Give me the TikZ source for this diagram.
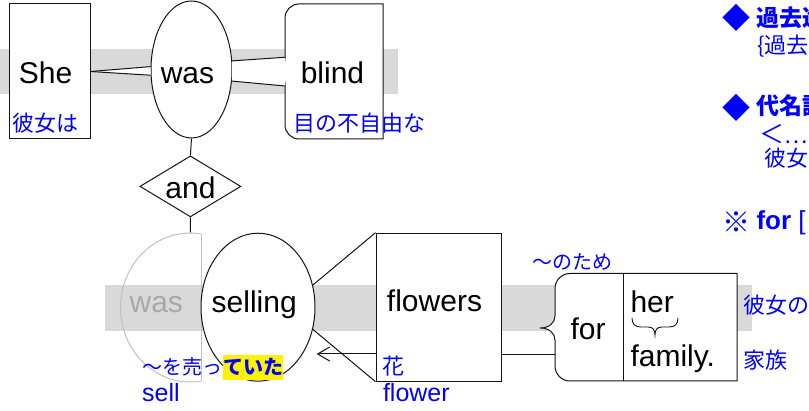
\documentclass[tikz,border=0pt]{standalone}
\usepackage{fontspec}
\setmainfont{Liberation Sans}
\newfontfamily\jp{Noto Sans CJK JP}
\usetikzlibrary{arrows.meta,shapes.geometric}
\definecolor{jblue}{RGB}{0,0,255}
\definecolor{band}{RGB}{217,217,217}
\definecolor{ghost}{RGB}{192,192,192}
\definecolor{ghosttext}{RGB}{168,168,168}
\definecolor{ink}{RGB}{20,20,20}
\begin{document}
\begin{tikzpicture}[x=1pt,y=-1pt,line width=1pt,draw=ink,
  word/.style={font=\fontsize{30}{34}\selectfont,inner sep=0pt,anchor=base,text=black},
  jlab/.style={font=\jp\fontsize{22}{26}\selectfont,text=jblue,inner sep=0pt,anchor=base west},
  jsmall/.style={font=\jp\fontsize{20}{24}\selectfont,text=jblue,inner sep=0pt,anchor=base west},
  elab/.style={font=\fontsize{25}{28}\selectfont,text=jblue,inner sep=0pt,anchor=base west},
  rbold/.style={font=\jp\bfseries\fontsize{23}{26}\selectfont,text=jblue,inner sep=0pt,anchor=base west},
  rreg/.style={font=\jp\fontsize{22}{26}\selectfont,text=jblue,inner sep=0pt,anchor=base west},
  rmark/.style={font=\jp\fontsize{28}{30}\selectfont,text=jblue,inner sep=0pt},
  wbox/.style={draw,fill=white,rectangle,inner sep=0pt},
  well/.style={draw,fill=white,ellipse,inner sep=0pt},
]
\useasboundingbox (0,0) rectangle (809,411);

% grey bands
\fill[band] (0,49) rectangle (398,94);
\fill[band] (105,285) rectangle (752,331);

% ---- top line ----
\node[wbox,minimum width=81,minimum height=135] (she) at (49.5,71.5) {};
\node[well,minimum width=81,minimum height=137] (was) at (191.5,69.5) {};

% blind box with brace on its left side
\draw[fill=white] (299,4) -- (383,4) -- (383,139) -- (299,139)
  .. controls (291.3,139) and (285,132.7) .. (285,125) -- (285,83)
  .. controls (285,76) and (280,71) .. (273,71)
  .. controls (280,71) and (285,66) .. (285,59) -- (285,18)
  .. controls (285,10.3) and (291.3,4) .. (299,4) -- cycle;
\coordinate (bl1) at (285,57.3);
\coordinate (bl2) at (285,86);

% connectors top
\fill[white] (she.east) -- (was.176) -- (was.188) -- cycle;
\draw (she.east) -- (was.176);
\draw (she.east) -- (was.188);
\fill[white] (was.12) -- (bl1) -- (bl2) -- (was.-16) -- cycle;
\draw (was.12) -- (bl1);
\draw (was.-16) -- (bl2);

\node[word] (sheT) at (45.5,83.3) {She};
\node[word] (wasT) at (187.5,83.3) {was};
\node[word] (blindT) at (332.5,83.3) {blind};
\node[jlab] (kanojowa) at (12,132) {彼女は};
\node[jlab] (menofujiyu) at (293,132) {目の不自由な};

% ---- and ----
\node[draw,fill=white,diamond,inner sep=0pt,minimum width=101,minimum height=61] (and) at (190.4,186.4) {};
\node[word] (andT) at (190.5,198.3) {and};
\draw (was.south) -- (and.north);

% ---- lower line ----
\begin{scope}
  \clip (100,220) rectangle (201,395);
  \node[draw=ghost,ellipse,inner sep=0pt,minimum width=140,minimum height=149] (wasg) at (190.5,307.5) {};
\end{scope}
\draw[ghost] (201,233.8) -- (201,381.2);
\draw (and.south) -- (wasg.north);

\node[well,minimum width=114,minimum height=148] (selling) at (258,307.2) {};
\node[wbox,minimum width=125,minimum height=148] (flowers) at (438.5,307.2) {};
\draw (selling.22) -- (flowers.north west);
\draw (selling.-22) -- (flowers.south west);
\coordinate (arrtip) at (316.7,354);
\draw[-{Straight Barb[length=12pt,width=14pt]}] (arrtip -| flowers.west) -- (arrtip);

% for box with brace
\draw[fill=white] (570,273.5) -- (737,273.5) -- (737,381) -- (570,381)
  .. controls (561.7,381) and (555,374.3) .. (555,366) -- (555,340)
  .. controls (555,333) and (549,328) .. (540,328)
  .. controls (549,328) and (555,323) .. (555,316) -- (555,288.5)
  .. controls (555,280.2) and (561.7,273.5) .. (570,273.5) -- cycle;
\coordinate (forL) at (555,354.3);
\coordinate (forM) at (623,273.5);
\draw (forM) -- (623,381);
\draw (forL -| flowers.east) -- (forL);

% brace under "her"
\draw[line width=0.9pt] (632,318) .. controls (632,324) and (635,327) .. (641,327) -- (648,327)
  .. controls (653,327) and (655,330) .. (655,335)
  .. controls (655,330) and (657,327) .. (662,327) -- (669,327)
  .. controls (675,327) and (678,324) .. (678,318);

\node[word,text=ghosttext] (wasgT) at (156.3,312.7) {was};
\node[word] (sellingT) at (254.2,312.7) {selling};
\node[word] (flowersT) at (434.5,311.7) {flowers};
\node[word] (forT) at (588,340) {for};
\node[word,anchor=base west] (herT) at (630,312.7) {her};
\node[word,anchor=base west] (familyT) at (630,366.7) {family.};

\node[jsmall] (uru) at (141.7,375) {～を売っ};
\node[jsmall,font=\jp\bfseries\fontsize{20}{24}\selectfont,fill=yellow,inner ysep=4pt,inner xsep=0pt,anchor=west] (teita) at (uru.east) {ていた};
\node[elab] (sell) at (141.7,402) {sell};
\node[jlab] (hana) at (382.3,375) {花};
\node[elab] (flower) at (382.5,402) {flower};
\node[jsmall] (notame) at (531.7,270) {～のため};
\node[jlab] (kanojono) at (742.7,313.5) {彼女の};
\node[jlab] (kazoku) at (742.7,368.5) {家族};

% ---- right notes (cut by the page edge, as in the reference) ----
\node[rmark] (d1) at (736,18.3) {◆};
\node[rbold] (h1) at (756,26.5) {過去進行形};
\node[rreg] (h1b) at (756.7,53.5) {\{過去進行形};
\node[rmark] (d2) at (736,107.5) {◆};
\node[rbold] (h2) at (756,115) {代名詞};
\node[rreg] (h2b) at (758.5,144) {{\fontsize{25}{26}\selectfont ＜}…(};
\node[rreg] (h2c) at (763.5,167) {彼女の};
\node[rmark] (d3) at (736,221.7) {※};
\node[font=\fontsize{26}{28}\selectfont,text=jblue,inner sep=0pt,anchor=base west] (h3) at (756,230) {\textbf{for} [};
\end{tikzpicture}
\end{document}
